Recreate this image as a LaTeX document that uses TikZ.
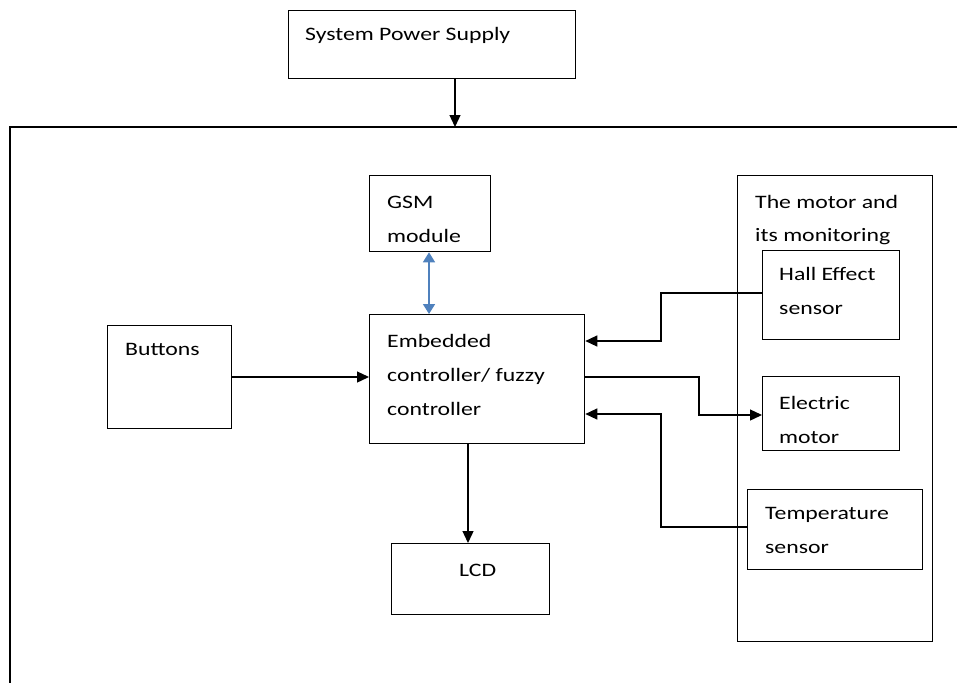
\documentclass[tikz,border=0pt]{standalone}
\usepackage{fontspec}
\setmainfont{Carlito}[FakeStretch=1.25]
\usetikzlibrary{arrows.meta}
\definecolor{arrowblue}{HTML}{4F81BD}
\tikzset{
  box/.style={draw=black, line width=1.3pt, rectangle, inner sep=0pt, anchor=north west},
  lbl/.style={anchor=base west, inner sep=0pt, font=\fontsize{19}{34}\selectfont, text=black},
  conn/.style={draw=black, line width=1.3pt, -{Triangle[length=12pt,width=11pt]}},
  bidir/.style={draw=arrowblue, line width=1.6pt, {Triangle[length=10pt,width=12pt]}-{Triangle[length=10pt,width=12pt]}}
}
\begin{document}
\begin{tikzpicture}[x=1pt,y=-1pt]
\useasboundingbox (0,0) rectangle (957,683);
% outer frame (open at right and bottom)
\draw[line width=1.3pt] (957,127) -- (10,127) -- (10,683);
\coordinate (frametop) at (455,127);

% boxes
\node[box, minimum width=287pt, minimum height=68pt] (psu) at (288,10) {};
\node[box, minimum width=121pt, minimum height=76pt] (gsm) at (369,175) {};
\node[box, minimum width=215pt, minimum height=129pt] (ctrl) at (369,314) {};
\node[box, minimum width=124pt, minimum height=103pt] (btn) at (107,325) {};
\node[box, minimum width=158pt, minimum height=71pt] (lcd) at (391,543) {};
\node[box, minimum width=195pt, minimum height=466pt] (motorbox) at (737,175) {};
\node[box, minimum width=137pt, minimum height=89pt] (hall) at (762,250) {};
\node[box, minimum width=137pt, minimum height=74pt] (emotor) at (762,376) {};
\node[box, minimum width=175pt, minimum height=80pt] (temp) at (747,489) {};

% labels
\node[lbl] (psuT) at (305,40) {System Power Supply};
\node[lbl] (gsmT1) at (387,208) {GSM};
\node[lbl] (gsmT2) at (387,242) {module};
\node[lbl] (ctrlT1) at (387,347) {Embedded};
\node[lbl] (ctrlT2) at (387,381) {controller/ fuzzy};
\node[lbl] (ctrlT3) at (387,415) {controller};
\node[lbl] (btnT) at (125,355) {Buttons};
\node[lbl] (lcdT) at (459,576) {LCD};
\node[lbl] (mbT1) at (755,208) {The motor and};
\node[lbl] (mbT2) at (755,241) {its monitoring};
\node[lbl] (hallT1) at (779,280) {Hall Effect};
\node[lbl] (hallT2) at (779,314) {sensor};
\node[lbl] (emT1) at (779,409) {Electric};
\node[lbl] (emT2) at (779,443) {motor};
\node[lbl] (tempT1) at (765,519) {Temperature};
\node[lbl] (tempT2) at (765,553) {sensor};

% connectors
\draw[conn] (psu.south -| frametop) -- (frametop);
\draw[bidir] ([xshift=60pt]gsm.south west) -- ([xshift=60pt]ctrl.north west);
\draw[conn] (btn.east |- 0,377) -- (ctrl.west |- 0,377);
\draw[conn] ([xshift=99pt]ctrl.south west) -- ([xshift=77pt]lcd.north west);
\draw[conn] (hall.west |- 0,293) -| (661,341) -- (ctrl.east |- 0,341);
\draw[conn] (ctrl.east |- 0,377) -| (699,415) -- (emotor.west |- 0,415);
\draw[conn] (temp.west |- 0,527) -| (661,414) -- (ctrl.east |- 0,414);
\end{tikzpicture}
\end{document}
